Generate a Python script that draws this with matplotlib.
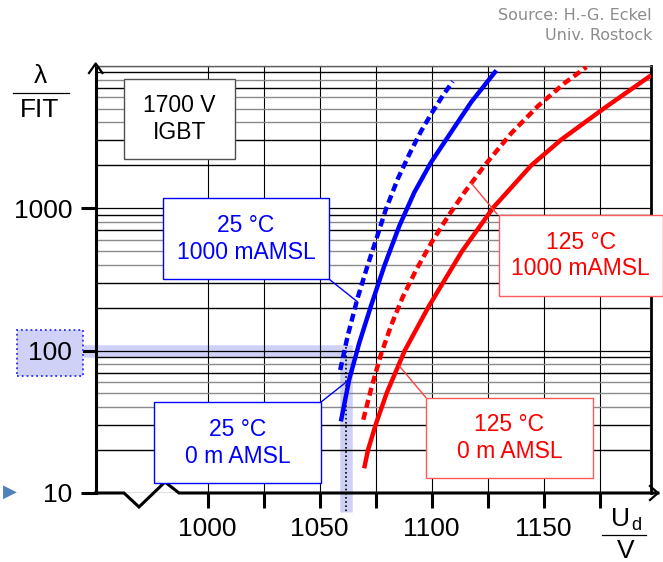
import numpy as np
import matplotlib.pyplot as plt
from matplotlib.lines import Line2D
from matplotlib.patches import Rectangle, ConnectionPatch
from matplotlib.ticker import NullLocator

plt.rcParams['font.family'] = ['Liberation Sans', 'DejaVu Sans']

# Werte (U_d in V, lambda in FIT)
u_25_0m = [1059.5, 1063.2, 1067.7, 1072.9, 1078.9, 1085.6, 1092.3, 1099.8,
           1108.7, 1117.7, 1128.9]
fit_25_0m = [31.8, 62.5, 113, 205, 393, 750, 1291, 2100, 3410, 5550, 9270]

u_25_1000m = [1059.2, 1062.5, 1066.9, 1071.4, 1075.1, 1079.6, 1084.9, 1090.1,
              1095.3, 1099.8, 1105.0, 1109.5]
fit_25_1000m = [73, 126, 232, 394, 592, 982, 1603, 2399, 3467, 4571, 6166, 7762]

u_125_0m = [1069.9, 1071.6, 1075.1, 1080.0, 1088.0, 1098.8, 1113.6, 1127.5,
            1144.5, 1158.0, 1177.4, 1198.0]
fit_125_0m = [14.9, 20, 30.4, 50.5, 99.8, 205, 498, 1007, 1995, 3034, 5070, 8550]

u_125_1000m = [1069.5, 1073.0, 1077.4, 1082.0, 1087.1, 1093.1, 1099.8, 1107.3,
               1114.7, 1123.7, 1135.6, 1147.6, 1159.5, 1169.2]
fit_125_1000m = [32.7, 53.8, 94.0, 151, 237, 368, 568, 873, 1291, 1995, 3357,
                 5224, 7568, 9795]

x_ticks = [1000, 1025, 1050, 1075, 1100, 1125, 1150, 1175]
x_labels = ['1000', '', '1050', '', '1100', '', '1150', '']
y_ticks = [10, 100, 1000]
y_labels = ['10', '100', '1000']

# markierter Arbeitspunkt
u_mark = 1062
fit_mark = 100

W, H = 663, 562
BLUE = '#0000ff'
RED = '#ff0000'
BAND = '#d0d1f6'


def px(x, y):
    # Pixel (oben links) -> Figure-Koordinaten
    return x / W, 1 - y / H


fig = plt.figure(figsize=(W / 100, H / 100), dpi=100)
x0, y0 = px(95.7, 493)
x1, y1 = px(651, 65.7)
ax = fig.add_axes([x0, y0, x1 - x0, y1 - y0])
ax.set_yscale('log')
ax.set_xlim(950, 1198)
ax.set_ylim(10, 10000)

# Gitter
for xv in x_ticks:
    ax.axvline(xv, color='black', lw=0.8, zorder=0.6)
for dec in [10, 100, 1000, 10000]:
    ax.axhline(dec, color='black', lw=0.9, zorder=0.6)
    if dec < 10000:
        for k in range(2, 10):
            c = 'black' if k in (2, 3, 7, 9) else '#8a8a8a'
            ax.axhline(dec * k, color=c, lw=1.0, zorder=0.6)

# Markierung 100 FIT
ax.plot([944.5, u_mark, u_mark], [fit_mark, fit_mark, 10 ** (1 - 19 / 142)],
        color=BAND, lw=9, solid_joinstyle='miter', solid_capstyle='butt',
        clip_on=False, zorder=0.4)
ax.plot([u_mark, u_mark], [fit_mark * 1.06, 10 ** (1 - 19 / 142)], color='black',
        lw=1.2, ls=(0, (1, 1.5)), clip_on=False, zorder=0.7)

# Kurven
ax.plot(u_25_0m, fit_25_0m, color=BLUE, lw=3.2, solid_capstyle='butt', zorder=3)
ax.plot(u_25_1000m, fit_25_1000m, color=BLUE, lw=3.2, ls=(0, (1.8, 1.0)),
        dash_capstyle='butt', zorder=3)
ax.plot(u_125_0m, fit_125_0m, color=RED, lw=3.2, solid_capstyle='butt', zorder=3)
ax.plot(u_125_1000m, fit_125_1000m, color=RED, lw=3.2, ls=(0, (1.8, 1.0)),
        dash_capstyle='butt', zorder=3)

# Achsen
ax.set_xticks(x_ticks)
ax.set_xticklabels(x_labels)
ax.set_yticks(y_ticks)
ax.set_yticklabels(y_labels)
ax.yaxis.set_minor_locator(NullLocator())
ax.tick_params(axis='both', which='major', direction='out', length=10.5,
               width=2.2, labelsize=19, pad=6.5)
for lab in ax.get_yticklabels():
    if lab.get_text() == '100':
        lab.set_bbox(dict(boxstyle='square,pad=0.42', fc=BAND, ec='#2a2aff',
                          ls=':', lw=1.3))

ax.spines['left'].set_linewidth(2.2)
ax.spines['bottom'].set_visible(False)
ax.spines['top'].set_linewidth(1.0)
ax.spines['top'].set_color('#606060')
ax.spines['right'].set_linewidth(2.0)

# x-Achse mit Unterbrechung und Pfeilen
bx, by = zip(*[px(95.7, 493), px(124, 493), px(139, 507), px(165, 482),
               px(179, 493), px(658, 493)])
fig.add_artist(Line2D(bx, by, color='black', lw=2.2, solid_joinstyle='miter'))
ax_, ay_ = zip(*[px(650, 486), px(658, 493), px(650, 500)])
fig.add_artist(Line2D(ax_, ay_, color='black', lw=1.6))
ax_, ay_ = zip(*[px(89, 73), px(95.7, 63.5), px(102.4, 73)])
fig.add_artist(Line2D(ax_, ay_, color='black', lw=1.6))

# Achsenbeschriftungen als Bruch
fig.text(*px(40, 76), 'λ', fontsize=19, ha='center', va='center')
lx, ly = zip(*[px(13, 92.5), px(69, 92.5)])
fig.add_artist(Line2D(lx, ly, color='black', lw=0.9))
fig.text(*px(40, 110), 'FIT', fontsize=19, ha='center', va='center')

fig.text(*px(630, 519), 'U', fontsize=19, ha='right', va='center')
fig.text(*px(631, 526), 'd', fontsize=13, ha='left', va='center')
lx, ly = zip(*[px(602, 534.5), px(646, 534.5)])
fig.add_artist(Line2D(lx, ly, color='black', lw=0.9))
fig.text(*px(626, 551), 'V', fontsize=19, ha='center', va='center')

fig.text(*px(10, 492), '▶', fontsize=13, color='#4f81bd', ha='center',
         va='center', family='DejaVu Sans')

fig.text(*px(652, 15), 'Source: H.-G. Eckel', fontsize=11.5, color='#8c8c8c',
         ha='right', va='center', family='DejaVu Sans')
fig.text(*px(652, 35), 'Univ. Rostock', fontsize=11.5, color='#8c8c8c',
         ha='right', va='center', family='DejaVu Sans')


def add_box(bx0, by0, bx1, by1, text, color, edge):
    llx, lly = px(bx0, by1)
    urx, ury = px(bx1, by0)
    fig.add_artist(Rectangle((llx, lly), urx - llx, ury - lly,
                             transform=fig.transFigure, fc='white', ec=edge,
                             lw=1.0, zorder=5))
    cx, cy = px((bx0 + bx1) / 2, (by0 + by1) / 2)
    fig.text(cx, cy, text, color=color, fontsize=16.5, ha='center',
             va='center', linespacing=1.2, zorder=6)


def leader(x, y, u, fit, color):
    fig.add_artist(ConnectionPatch(xyA=px(x, y), coordsA=fig.transFigure,
                                   xyB=(u, fit), coordsB=ax.transData,
                                   color=color, lw=1.0, zorder=4))


leader(329.3, 279.3, 1066.9, 220, BLUE)
leader(320.7, 402.3, 1063.0, 62, BLUE)
leader(497, 214, 1117.7, 1500, '#ff4040')
leader(426, 397.7, 1085.6, 78, '#ff4040')

add_box(124, 79, 235, 159, '1700 V\nIGBT', 'black', '#505050')
add_box(162.7, 198.3, 329.3, 279.3, '25 °C\n1000 mAMSL', BLUE, BLUE)
add_box(154.3, 402.3, 320.7, 483.3, '25 °C\n0 m AMSL', BLUE, BLUE)
add_box(498.7, 215, 662.5, 295.7, '125 °C\n1000 mAMSL', RED, '#ff5a5a')
add_box(426, 397.7, 592.7, 478.3, '125 °C\n0 m AMSL', RED, '#ff5a5a')

fig.savefig('out.png', dpi=100)
